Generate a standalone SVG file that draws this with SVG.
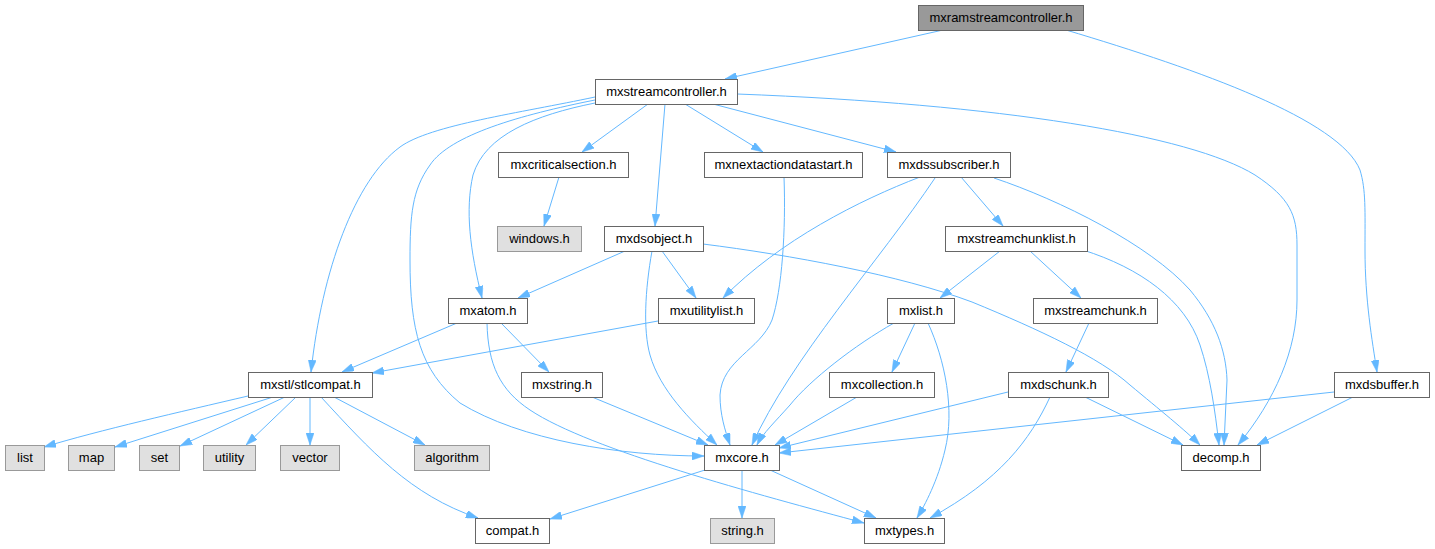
<svg xmlns="http://www.w3.org/2000/svg" width="1435" height="549" viewBox="0 0 1435 549">
<style>
.n rect{fill:#ffffff;stroke:#666666;stroke-width:1}
.x rect{fill:#e0e0e0;stroke:#999999;stroke-width:1}
.r rect{fill:#999999;stroke:#666666;stroke-width:1}
text{font-family:"Liberation Sans",Arial,Helvetica,sans-serif;font-size:13px;text-anchor:middle;fill:#000000}
#edges path{fill:none;stroke:#63b8ff;stroke-width:1;marker-end:url(#ah)}
</style>
<defs>
<marker id="ah" viewBox="0 0 12 8" refX="12" refY="4" markerWidth="12" markerHeight="8" markerUnits="userSpaceOnUse" orient="auto">
<path d="M0,0 L12,4 L0,8 z" fill="#63b8ff" stroke="#63b8ff" stroke-width="0.5"/>
</marker>
</defs>
<rect width="1435" height="549" fill="#ffffff"/>
<g id="edges">
<path d="M943,30 L725,79"/>
<path d="M1066,30 C1200,70 1340,120 1360,170 C1366,190 1365,210 1365,250 C1365,300 1372,340 1377,372"/>
<path d="M648,104 L582,152"/>
<path d="M665,104 L655,226"/>
<path d="M685,104 L763,152"/>
<path d="M713,104 L896,152"/>
<path d="M737,94 C1000,104 1190,135 1255,175 C1290,198 1297,215 1297,245 L1297,300 C1297,350 1275,400 1238,445"/>
<path d="M595,97 C520,113 430,125 400,147 C355,180 322,270 311,372"/>
<path d="M595,100 C520,115 450,135 430,165 C412,190 410,215 410,260 C410,330 420,370 460,403 C520,440 620,456 704,456"/>
<path d="M595,103 C535,115 485,135 473,175 C465,210 470,250 482,298"/>
<path d="M559,177 L544,226"/>
<path d="M961,177 L1003,226"/>
<path d="M920,177 C860,200 780,240 723,298"/>
<path d="M935,178 C880,260 790,360 752,445"/>
<path d="M994,178 C1060,200 1150,245 1190,290 C1215,320 1226,350 1227,380 L1224,445"/>
<path d="M1083,250 C1140,268 1185,300 1200,345 C1210,375 1215,410 1219,445"/>
<path d="M1000,251 L940,298"/>
<path d="M1030,251 L1081,298"/>
<path d="M625,251 L518,298"/>
<path d="M662,251 L696,298"/>
<path d="M652,251 C645,290 643,330 650,355 C660,390 690,420 717,445"/>
<path d="M703,244 C790,255 900,275 972,302 C1040,330 1100,358 1130,385 C1160,410 1185,430 1200,445"/>
<path d="M784,177 C786,230 782,290 772,320 C760,350 722,360 720,395 C720,415 725,430 730,445"/>
<path d="M457,323 L342,372"/>
<path d="M658,321 L372,373"/>
<path d="M501,323 L549,372"/>
<path d="M487,323 C488,365 500,390 530,410 C590,450 760,495 864,523"/>
<path d="M592,397 L708,445"/>
<path d="M894,323 C855,345 810,380 790,405 C775,422 763,433 757,445"/>
<path d="M915,323 L892,372"/>
<path d="M928,323 C945,360 955,410 945,450 C938,480 925,505 917,518"/>
<path d="M857,397 L775,445"/>
<path d="M1089,323 L1066,372"/>
<path d="M1008,392 L779,448"/>
<path d="M1085,397 L1183,445"/>
<path d="M1050,397 C1030,440 1000,480 930,518"/>
<path d="M1334,392 L779,453"/>
<path d="M1353,397 L1257,445"/>
<path d="M705,470 L550,519"/>
<path d="M742,470 L742,518"/>
<path d="M770,470 L876,518"/>
<path d="M248,396 C180,412 100,430 44,447"/>
<path d="M273,397 L115,447"/>
<path d="M285,397 L180,446"/>
<path d="M296,397 L246,445"/>
<path d="M310,397 L310,445"/>
<path d="M334,397 L425,445"/>
<path d="M321,397 C370,450 410,495 478,518"/>
</g>
<g id="mxramstreamcontroller" class="r"><rect x="918.5" y="5.5" width="165" height="25"/><text x="1001" y="22">mxramstreamcontroller.h</text></g>
<g id="mxstreamcontroller" class="n"><rect x="595.5" y="79.5" width="142" height="25"/><text x="666.5" y="96">mxstreamcontroller.h</text></g>
<g id="mxcriticalsection" class="n"><rect x="498.5" y="152.5" width="130" height="25"/><text x="563.5" y="169">mxcriticalsection.h</text></g>
<g id="mxnextactiondatastart" class="n"><rect x="704.5" y="152.5" width="158" height="25"/><text x="783.5" y="169">mxnextactiondatastart.h</text></g>
<g id="mxdssubscriber" class="n"><rect x="887.5" y="152.5" width="123" height="25"/><text x="949" y="169">mxdssubscriber.h</text></g>
<g id="windows" class="x"><rect x="497.5" y="226.5" width="84" height="25"/><text x="539.5" y="243">windows.h</text></g>
<g id="mxdsobject" class="n"><rect x="604.5" y="226.5" width="99" height="25"/><text x="654" y="243">mxdsobject.h</text></g>
<g id="mxstreamchunklist" class="n"><rect x="945.5" y="226.5" width="142" height="25"/><text x="1016.5" y="243">mxstreamchunklist.h</text></g>
<g id="mxatom" class="n"><rect x="448.5" y="298.5" width="79" height="25"/><text x="488" y="315">mxatom.h</text></g>
<g id="mxutilitylist" class="n"><rect x="658.5" y="298.5" width="96" height="25"/><text x="706.5" y="315">mxutilitylist.h</text></g>
<g id="mxlist" class="n"><rect x="887.5" y="298.5" width="67" height="25"/><text x="921" y="315">mxlist.h</text></g>
<g id="mxstreamchunk" class="n"><rect x="1033.5" y="298.5" width="124" height="25"/><text x="1095.5" y="315">mxstreamchunk.h</text></g>
<g id="stlcompat" class="n"><rect x="248.5" y="372.5" width="124" height="25"/><text x="310.5" y="389">mxstl/stlcompat.h</text></g>
<g id="mxstring" class="n"><rect x="521.5" y="372.5" width="81" height="25"/><text x="562" y="389">mxstring.h</text></g>
<g id="mxcollection" class="n"><rect x="829.5" y="372.5" width="105" height="25"/><text x="882" y="389">mxcollection.h</text></g>
<g id="mxdschunk" class="n"><rect x="1008.5" y="372.5" width="100" height="25"/><text x="1058.5" y="389">mxdschunk.h</text></g>
<g id="mxdsbuffer" class="n"><rect x="1334.5" y="372.5" width="95" height="25"/><text x="1382" y="389">mxdsbuffer.h</text></g>
<g id="list" class="x"><rect x="5.5" y="445.5" width="39" height="25"/><text x="25" y="462">list</text></g>
<g id="map" class="x"><rect x="68.5" y="445.5" width="46" height="25"/><text x="91.5" y="462">map</text></g>
<g id="set" class="x"><rect x="139.5" y="445.5" width="40" height="25"/><text x="159.5" y="462">set</text></g>
<g id="utility" class="x"><rect x="203.5" y="445.5" width="52" height="25"/><text x="229.5" y="462">utility</text></g>
<g id="vector" class="x"><rect x="280.5" y="445.5" width="59" height="25"/><text x="310" y="462">vector</text></g>
<g id="algorithm" class="x"><rect x="414.5" y="445.5" width="75" height="25"/><text x="452" y="462">algorithm</text></g>
<g id="mxcore" class="n"><rect x="704.5" y="445.5" width="75" height="25"/><text x="742" y="462">mxcore.h</text></g>
<g id="decomp" class="n"><rect x="1181.5" y="445.5" width="79" height="25"/><text x="1221" y="462">decomp.h</text></g>
<g id="compat" class="n"><rect x="475.5" y="518.5" width="74" height="25"/><text x="512.5" y="535">compat.h</text></g>
<g id="string" class="x"><rect x="710.5" y="518.5" width="64" height="25"/><text x="742.5" y="535">string.h</text></g>
<g id="mxtypes" class="n"><rect x="864.5" y="518.5" width="80" height="25"/><text x="904.5" y="535">mxtypes.h</text></g>
</svg>
